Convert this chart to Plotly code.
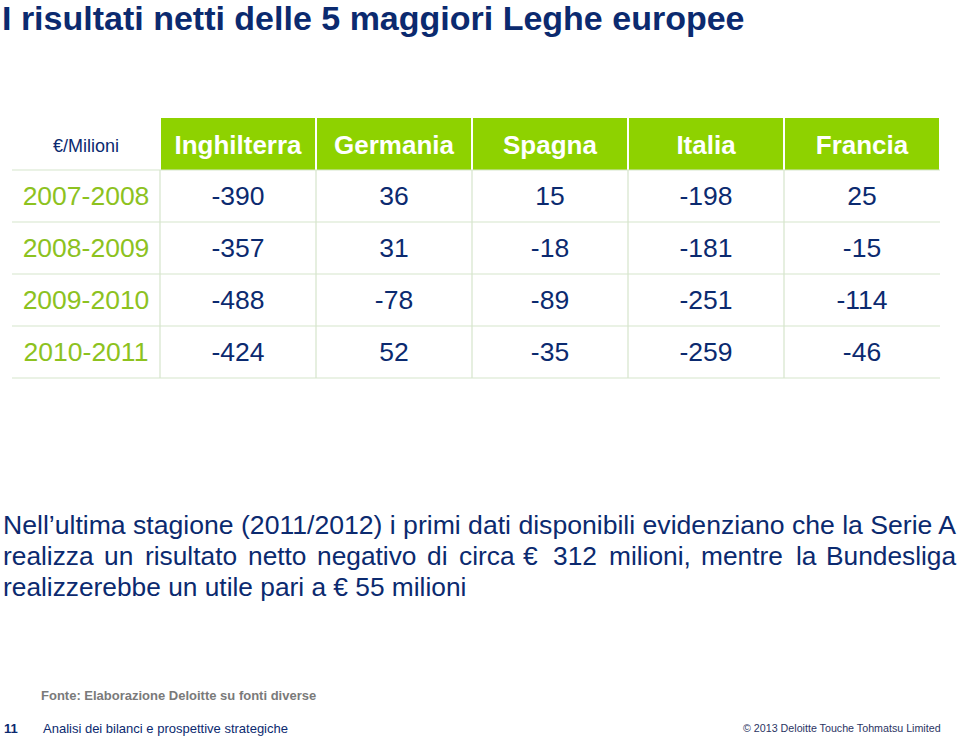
import plotly.graph_objects as go

# ---- data ----
seasons = ["2007-2008", "2008-2009", "2009-2010", "2010-2011"]
leagues = ["Inghilterra", "Germania", "Spagna", "Italia", "Francia"]
inghilterra = [-390, -357, -488, -424]
germania = [36, 31, -78, 52]
spagna = [15, -18, -89, -35]
italia = [-198, -181, -251, -259]
francia = [25, -15, -114, -46]
unit_label = "€/Milioni"

W, H = 960, 739
NAVY = "#0B2A6F"
GREEN = "#8ED200"
LABEL_GREEN = "#8DC21F"
GRID = "#D5E5CB"
FONT = "Liberation Sans, Arial"

# ---- table geometry (layout only) ----
TABLE_LEFT, TABLE_TOP = 12, 118
col_widths = [148, 156, 156, 156, 156, 156]
HEADER_H, ROW_H = 52, 52
TEXT_DY = 3  # optical vertical offset of text inside cells

edges = [TABLE_LEFT]
for w in col_widths:
    edges.append(edges[-1] + w)
col_centers = [(edges[i] + edges[i + 1]) / 2 for i in range(len(col_widths))]
header_center = TABLE_TOP + HEADER_H / 2 + TEXT_DY
row_tops = [TABLE_TOP + HEADER_H + i * ROW_H for i in range(len(seasons))]
row_centers = [t + ROW_H / 2 + TEXT_DY - 1 for t in row_tops]
table_bottom = row_tops[-1] + ROW_H

series = [inghilterra, germania, spagna, italia, francia]

fig = go.Figure()

# header labels
fig.add_trace(go.Scatter(
    x=col_centers[1:], y=[header_center] * len(leagues),
    text=[f"<b>{l}</b>" for l in leagues], mode="text",
    textfont=dict(family=FONT, size=26, color="white"),
    hoverinfo="skip", showlegend=False,
))
fig.add_trace(go.Scatter(
    x=[col_centers[0]], y=[header_center], text=[unit_label], mode="text",
    textfont=dict(family=FONT, size=18, color=NAVY),
    hoverinfo="skip", showlegend=False,
))
# season labels
fig.add_trace(go.Scatter(
    x=[col_centers[0]] * len(seasons), y=row_centers, text=seasons, mode="text",
    textfont=dict(family=FONT, size=26.5, color=LABEL_GREEN),
    hoverinfo="skip", showlegend=False,
))
# values
xs, ys, ts = [], [], []
for ci, vals in enumerate(series):
    for ri, v in enumerate(vals):
        xs.append(col_centers[ci + 1])
        ys.append(row_centers[ri])
        ts.append(str(v))
fig.add_trace(go.Scatter(
    x=xs, y=ys, text=ts, mode="text",
    textfont=dict(family=FONT, size=26.5, color=NAVY),
    hoverinfo="skip", showlegend=False,
))

shapes = []
# green header cells with white gaps
for i in range(1, len(col_widths)):
    shapes.append(dict(type="rect", xref="x", yref="y",
                       x0=edges[i] + 1, x1=edges[i + 1] - 1,
                       y0=TABLE_TOP, y1=TABLE_TOP + HEADER_H,
                       fillcolor=GREEN, line=dict(width=0), layer="below"))
# horizontal grid lines
for yv in [TABLE_TOP + HEADER_H] + [t + ROW_H for t in row_tops]:
    shapes.append(dict(type="line", xref="x", yref="y",
                       x0=edges[0], x1=edges[-1], y0=yv, y1=yv,
                       line=dict(color=GRID, width=1.2), layer="below"))
# vertical grid lines (interior)
for xv in edges[1:-1]:
    shapes.append(dict(type="line", xref="x", yref="y",
                       x0=xv, x1=xv, y0=TABLE_TOP + HEADER_H, y1=table_bottom,
                       line=dict(color=GRID, width=1.2), layer="below"))

annotations = []


def px(x):
    return x / W


def py(y):
    return 1 - y / H


def add_text(text, x, y, size, color, xanchor="left", bold=False):
    annotations.append(dict(
        text=f"<b>{text}</b>" if bold else text,
        x=px(x), y=py(y), xref="paper", yref="paper",
        xanchor=xanchor, yanchor="middle", showarrow=False,
        font=dict(family=FONT, size=size, color=color),
    ))


add_text("I risultati netti delle 5 maggiori Leghe europee", 0, 18, 34, NAVY, bold=True)

add_text("Nell\u2019ultima stagione (2011/2012) i primi dati disponibili evidenziano che la Serie A",
         1, 525, 26.6, NAVY)
line2_words = [("realizza", 3), ("un", 104), ("risultato", 145), ("netto", 248),
               ("negativo", 317), ("di", 427), ("circa", 459), ("€", 523),
               ("312", 553), ("milioni,", 609), ("mentre", 701), ("la", 796),
               ("Bundesliga", 826)]
for w, xw in line2_words:
    add_text(w, xw - 2, 556, 26.3, NAVY)
add_text("realizzerebbe un utile pari a € 55 milioni", 1, 587, 26.3, NAVY)

add_text("Fonte: Elaborazione Deloitte su fonti diverse", 39, 695, 13, "#7A7A7A", bold=True)
add_text("11", 2, 728, 13, NAVY, bold=True)
add_text("Analisi dei bilanci e prospettive strategiche", 41, 728, 13, NAVY)
add_text("© 2013 Deloitte Touche Tohmatsu Limited", 943, 728, 10.7, "#2B3463", xanchor="right")

fig.update_layout(
    width=W, height=H,
    margin=dict(l=0, r=0, t=0, b=0),
    paper_bgcolor="white", plot_bgcolor="white",
    xaxis=dict(range=[0, W], visible=False, fixedrange=True),
    yaxis=dict(range=[H, 0], visible=False, fixedrange=True),
    shapes=shapes,
    annotations=annotations,
    showlegend=False,
)

fig.write_html("out.html", config={"displayModeBar": False},
               post_script="document.body.style.margin='0';document.body.style.overflow='hidden';")
